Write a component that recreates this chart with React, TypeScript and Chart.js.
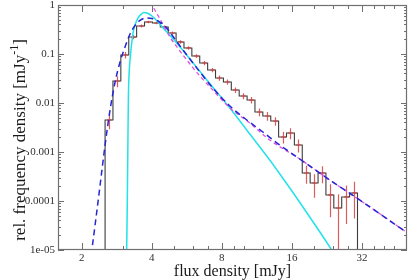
import React, { useEffect, useRef } from 'react';
import { Chart, registerables } from 'chart.js';

Chart.register(...registerables);

// ---- data ----
const binEdges = [2.518, 2.722, 2.943, 3.183, 3.441, 3.721, 4.023, 4.35, 4.703, 5.085, 5.498, 5.944, 6.427, 6.949, 7.513, 8.123, 8.783, 9.496, 10.27, 11.1, 12.0, 12.98, 14.03, 15.17, 16.4, 17.73, 19.17, 20.73, 22.41, 24.23, 26.2, 28.33, 30.63];
const histValues = [0.0045, 0.0281, 0.0954, 0.222, 0.373, 0.45, 0.429, 0.356, 0.268, 0.176, 0.133, 0.091, 0.0655, 0.0471, 0.0324, 0.0268, 0.0184, 0.0139, 0.0115, 0.00655, 0.00543, 0.00429, 0.00202, 0.00244, 0.00139, 0.000373, 0.000233, 0.000373, 0.000133, 0.000072, 0.000121, 0.000146];
const histRelErr = [0.35, 0.25, 0.15, 0.1, 0.07, 0.06, 0.06, 0.07, 0.07, 0.08, 0.08, 0.09, 0.1, 0.1, 0.12, 0.12, 0.13, 0.14, 0.15, 0.18, 0.2, 0.2, 0.26, 0.25, 0.3, 0.4, 0.5, 0.38, 0.65, 0.9, 0.72, 0.7];

const blueX = [2.194, 2.281, 2.397, 2.518, 2.645, 2.78, 2.92, 3.068, 3.223, 3.387, 3.558, 3.776, 4.006, 4.251, 4.555, 4.881, 5.284, 5.832, 6.436, 7.319, 8.658, 10.24, 12.0, 14.19, 17.29, 23.26, 31.28, 50.27];
const blueY = [7.9e-6, 3.24e-5, 2.12e-4, 1.39e-3, 7.2e-3, 0.0268, 0.0687, 0.139, 0.256, 0.382, 0.483, 0.543, 0.53, 0.472, 0.373, 0.244, 0.146, 0.0791, 0.0429, 0.0202, 0.00869, 0.0045, 0.00256, 0.00139, 0.00072, 0.000268, 0.000105, 2.22e-5];

const magentaX = [3.813, 4.006, 4.167, 4.335, 4.555, 4.786, 5.284, 5.832, 6.436, 7.319, 8.658, 10.55, 12.85, 17.29, 23.26, 31.28, 50.27];
const magentaY = [1.527, 1.0, 0.72, 0.518, 0.339, 0.222, 0.115, 0.0625, 0.0356, 0.0184, 0.00791, 0.0039, 0.00176, 0.00072, 0.000268, 0.000105, 2.22e-5];

const cyanX = [3.114, 3.138, 3.154, 3.17, 3.192, 3.223, 3.271, 3.32, 3.387, 3.489, 3.593, 3.702, 3.813, 4.006, 4.251, 4.555, 5.03, 5.832, 6.898, 8.658, 10.55, 12.85, 15.67, 19.09, 23.72, 25.17];
const cyanY = [6.25e-6, 1.05e-4, 1.1e-3, 0.0115, 0.0373, 0.0754, 0.153, 0.268, 0.391, 0.543, 0.64, 0.703, 0.687, 0.596, 0.45, 0.309, 0.184, 0.0791, 0.0295, 0.00791, 0.00233, 0.000687, 0.000184, 4.72e-5, 1.0e-5, 6.25e-6];

const xMajorTicks = [2, 4, 8, 16, 32];
const xMinorTicks = [3, 5, 6, 7, 9, 10, 12, 14, 20, 24, 28, 36, 40, 44];
const yMajorTicks = [1, 0.1, 0.01, 0.001, 0.0001, 0.00001];
const yTickLabels = ['1', '0.1', '0.01', '0.001', '0.0001', '1e-05'];
const xRange = [1.58, 50];
const yRange = [1e-5, 1];

const xTitle = 'flux density [mJy]';
const yTitleMain = 'rel. frequency density [mJy';
const yTitleSup = '-1';
const yTitleEnd = ']';

const FONT = "'Liberation Serif', 'DejaVu Serif', serif";
const HIST_INDEX = 3;

export default function App() {
  const ref = useRef<HTMLCanvasElement | null>(null);

  useEffect(() => {
    document.body.style.margin = '0';
    const canvas = ref.current;
    if (!canvas) return;

    const histData: { x: number; y: number }[] = [];
    histData.push({ x: binEdges[0], y: 1e-7 });
    histValues.forEach((v, i) => histData.push({ x: binEdges[i], y: v }));
    histData.push({ x: binEdges[binEdges.length - 1], y: histValues[histValues.length - 1] });
    histData.push({ x: binEdges[binEdges.length - 1], y: 1e-7 });

    const toPts = (xs: number[], ys: number[]) => xs.map((x, i) => ({ x, y: ys[i] }));

    const yMinor: number[] = [];
    for (let d = -5; d < 0; d++) {
      for (let m = 2; m <= 9; m++) yMinor.push(m * Math.pow(10, d));
    }

    const plugin = {
      id: 'gracePlot',
      afterDatasetDraw(chart: any, args: any) {
        if (args.index !== HIST_INDEX) return;
        const { ctx, chartArea: a, scales } = chart;
        const xs = scales.x, ys = scales.y;
        ctx.save();
        ctx.beginPath();
        ctx.rect(a.left, a.top, a.right - a.left, a.bottom - a.top);
        ctx.clip();
        ctx.strokeStyle = 'rgba(215,50,50,0.8)';
        ctx.lineWidth = 1.2;
        histValues.forEach((v, i) => {
          const c = Math.sqrt(binEdges[i] * binEdges[i + 1]);
          const px = Math.round(xs.getPixelForValue(c)) + 0.5;
          const s = histRelErr[i];
          const lo = Math.max(v * (1 - s), 1e-7);
          const hi = v * (1 + s);
          const py = ys.getPixelForValue(v);
          ctx.beginPath();
          ctx.moveTo(px, ys.getPixelForValue(lo));
          ctx.lineTo(px, ys.getPixelForValue(hi));
          ctx.moveTo(px - 2.5, py);
          ctx.lineTo(px + 2.5, py);
          ctx.stroke();
        });
        ctx.restore();
      },
      afterDraw(chart: any) {
        const { ctx, chartArea: a, scales } = chart;
        const xs = scales.x, ys = scales.y;
        ctx.save();
        ctx.strokeStyle = '#707070';
        ctx.lineWidth = 1.2;
        ctx.strokeRect(a.left + 0.5, a.top + 0.5, a.right - a.left - 1, a.bottom - a.top - 1);
        ctx.lineWidth = 1;
        ctx.beginPath();
        const xTick = (v: number, len: number) => {
          const p = Math.round(xs.getPixelForValue(v)) + 0.5;
          ctx.moveTo(p, a.bottom);
          ctx.lineTo(p, a.bottom - len);
          ctx.moveTo(p, a.top);
          ctx.lineTo(p, a.top + len);
        };
        const yTick = (v: number, len: number) => {
          const p = Math.round(ys.getPixelForValue(v)) + 0.5;
          ctx.moveTo(a.left, p);
          ctx.lineTo(a.left + len, p);
          ctx.moveTo(a.right, p);
          ctx.lineTo(a.right - len, p);
        };
        xMajorTicks.forEach((v) => xTick(v, 7));
        xMinorTicks.forEach((v) => xTick(v, 4));
        yMajorTicks.forEach((v) => yTick(v, 6));
        yMinor.forEach((v) => yTick(v, 3));
        ctx.stroke();

        // axis titles
        ctx.fillStyle = '#1a1a1a';
        ctx.font = `16px ${FONT}`;
        ctx.textAlign = 'center';
        ctx.textBaseline = 'alphabetic';
        ctx.fillText(xTitle, (a.left + a.right) / 2, 276);

        ctx.translate(25, 140);
        ctx.rotate(-Math.PI / 2);
        ctx.textAlign = 'left';
        const mainFont = `17px ${FONT}`;
        const supFont = `12px ${FONT}`;
        ctx.font = mainFont;
        const w1 = ctx.measureText(yTitleMain).width;
        const w3 = ctx.measureText(yTitleEnd).width;
        ctx.font = supFont;
        const w2 = ctx.measureText(yTitleSup).width;
        let x0 = -(w1 + w2 + w3) / 2;
        ctx.font = mainFont;
        ctx.fillText(yTitleMain, x0, 0);
        x0 += w1;
        ctx.font = supFont;
        ctx.fillText(yTitleSup, x0, -7);
        x0 += w2;
        ctx.font = mainFont;
        ctx.fillText(yTitleEnd, x0, 0);
        ctx.restore();
      },
    };

    const chart = new Chart(canvas, {
      type: 'line',
      data: {
        datasets: [
          {
            label: 'fit',
            data: toPts(blueX, blueY),
            borderColor: '#2626d4',
            borderWidth: 1.5,
            borderDash: [6, 4],
            pointRadius: 0,
            fill: false,
            cubicInterpolationMode: 'monotone',
            order: 0,
          },
          {
            label: 'power law',
            data: toPts(magentaX, magentaY),
            borderColor: '#e050e0',
            borderWidth: 1.3,
            borderDash: [4, 3],
            pointRadius: 0,
            fill: false,
            cubicInterpolationMode: 'monotone',
            order: 1,
          },
          {
            label: 'lognormal',
            data: toPts(cyanX, cyanY),
            borderColor: '#22e2ea',
            borderWidth: 1.5,
            pointRadius: 0,
            fill: false,
            cubicInterpolationMode: 'monotone',
            order: 2,
          },
          {
            label: 'histogram',
            data: histData,
            borderColor: '#3c3c3c',
            borderWidth: 1.1,
            pointRadius: 0,
            fill: false,
            stepped: 'before',
            tension: 0,
            order: 3,
          },
        ],
      },
      options: {
        animation: false,
        responsive: false,
        devicePixelRatio: 1,
        layout: { padding: { top: 5, right: 2, left: 0, bottom: 0 } },
        plugins: { legend: { display: false }, tooltip: { enabled: false } },
        events: [],
        scales: {
          x: {
            type: 'logarithmic',
            position: 'bottom',
            min: xRange[0],
            max: xRange[1],
            grid: { display: false, drawTicks: false },
            border: { display: false },
            ticks: {
              autoSkip: false,
              maxRotation: 0,
              padding: 2,
              color: '#303030',
              font: { family: FONT, size: 11 },
              callback: (v: any) => String(v),
            },
            afterBuildTicks: (s: any) => {
              s.ticks = xMajorTicks.map((v) => ({ value: v }));
            },
            afterFit: (s: any) => {
              s.height = 30;
              s.paddingLeft = 0;
              s.paddingRight = 0;
            },
          },
          y: {
            type: 'logarithmic',
            position: 'left',
            min: yRange[0],
            max: yRange[1],
            grid: { display: false, drawTicks: false },
            border: { display: false },
            ticks: {
              autoSkip: false,
              padding: 3,
              color: '#303030',
              font: { family: FONT, size: 11 },
              callback: (v: any) => {
                const i = yMajorTicks.findIndex((t) => Math.abs(Math.log10(t) - Math.log10(v)) < 1e-6);
                return i >= 0 ? yTickLabels[i] : '';
              },
            },
            afterBuildTicks: (s: any) => {
              s.ticks = yMajorTicks.map((v) => ({ value: v }));
            },
            afterFit: (s: any) => {
              s.width = 58;
              s.paddingTop = 0;
              s.paddingBottom = 0;
            },
          },
        },
      },
      plugins: [plugin],
    } as any);

    return () => chart.destroy();
  }, []);

  return <canvas ref={ref} width={409} height={280} style={{ display: 'block', width: 409, height: 280 }} />;
}
